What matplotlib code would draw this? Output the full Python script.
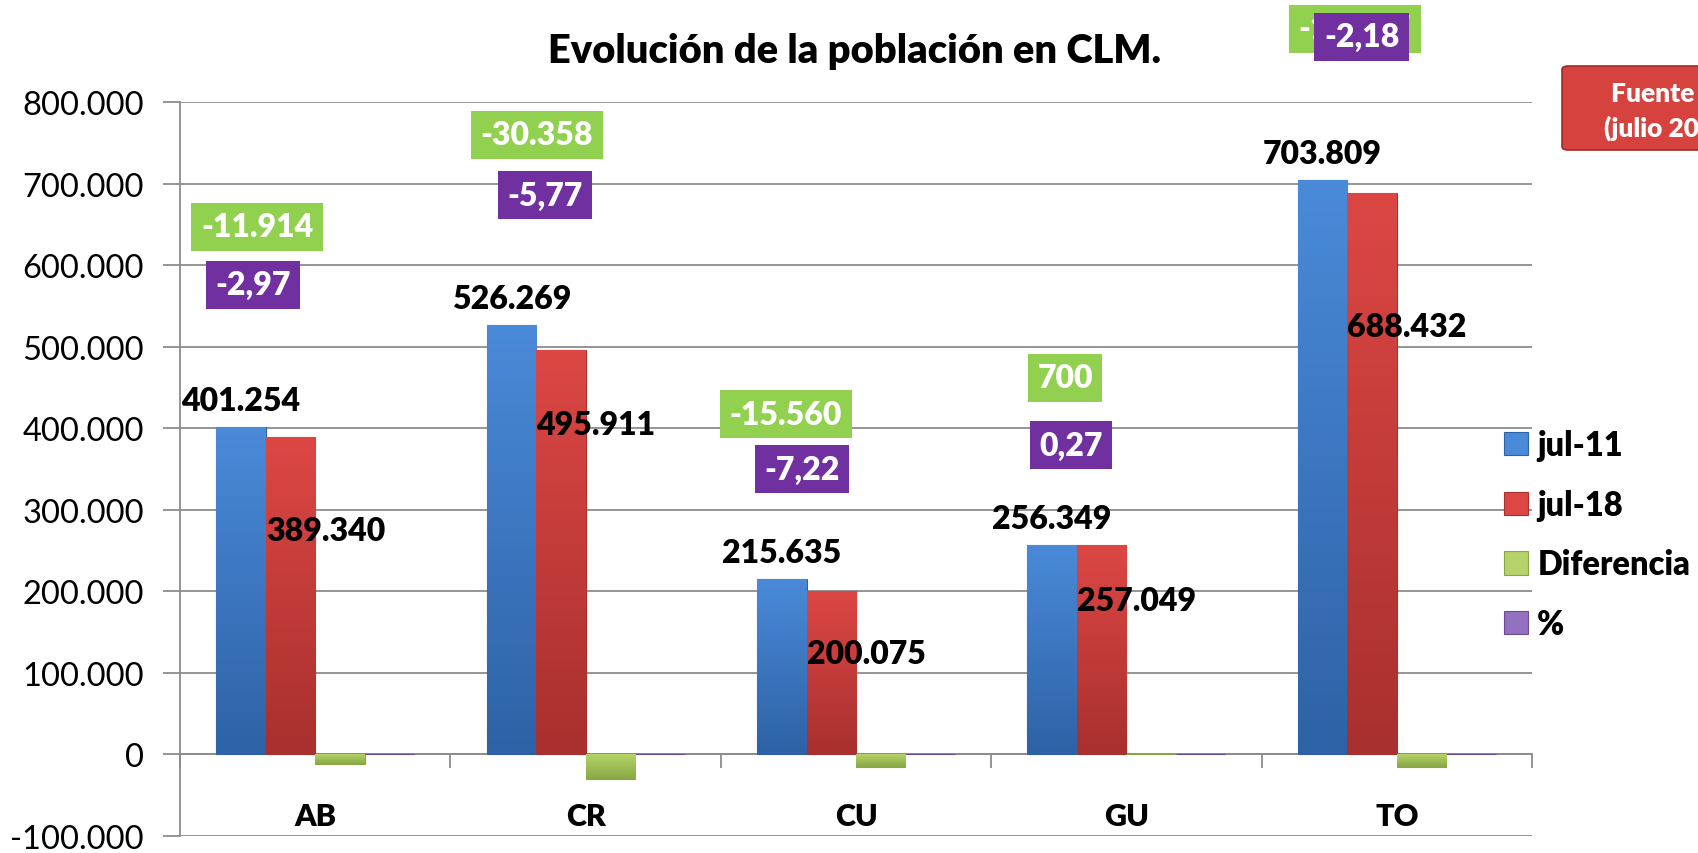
import matplotlib.pyplot as plt
import numpy as np
from matplotlib.patches import FancyBboxPatch
from matplotlib.colors import LinearSegmentedColormap

plt.rcParams['font.family'] = ['Lato', 'DejaVu Sans']

# data
provincias = ['AB', 'CR', 'CU', 'GU', 'TO']
jul_11 = [401254, 526269, 215635, 256349, 703809]
jul_18 = [389340, 495911, 200075, 257049, 688432]
diferencia = [-11914, -30358, -15560, 700, -15377]
porcentaje = [-2.97, -5.77, -7.22, 0.27, -2.18]

# label placement (moved by hand in the original), offsets from group centre
red_label_drop = [94, 74, 62, 56, 134]          # px below bar top
diff_label_pos = [(-0.215, 647000), (-0.18, 760000), (-0.259, 417000),
                  (-0.227, 462000), (-0.155, 890000)]
pct_label_pos = [(-0.23, 576000), (-0.15, 686000), (-0.20, 350000),
                 (-0.205, 379000), (-0.13, 880000)]

# (top colour, bottom colour) of each series
shades = {'jul-11': ('#4a8ad8', '#2e62a6'),
          'jul-18': ('#dc4744', '#a8302e'),
          'Diferencia': ('#b5d36a', '#88a845'),
          '%': ('#9470c0', '#6a4c94')}
box_green = '#92d050'
box_purple = '#7030a0'


def fmt_miles(v):
    s = '{:,}'.format(abs(int(v))).replace(',', '.')
    return ('-' if v < 0 else '') + s


def fmt_pct(v):
    return '{:.2f}'.format(v).replace('.', ',')


def shade_bars(ax, bar_container, top, bottom):
    cmap = LinearSegmentedColormap.from_list('s', [bottom, top])
    grad = np.linspace(0, 1, 64).reshape(-1, 1)
    for r in bar_container:
        x0, y0 = r.get_x(), r.get_y()
        w, h = r.get_width(), r.get_height()
        lo, hi = min(y0, y0 + h), max(y0, y0 + h)
        im = ax.imshow(grad, cmap=cmap, aspect='auto', origin='lower',
                       extent=(x0, x0 + w, lo, hi), zorder=3.1,
                       interpolation='bicubic')
        im.set_clip_path(r)


fig = plt.figure(figsize=(16.98, 8.54), dpi=100)
ax = fig.add_axes([180 / 1698, 17 / 854, 1352 / 1698, 734 / 854])

x = np.arange(len(provincias))
w = 0.183
series = [(jul_11, 'jul-11'), (jul_18, 'jul-18'),
          (diferencia, 'Diferencia'), (porcentaje, '%')]
for k, (vals, lab) in enumerate(series):
    top, bottom = shades[lab]
    b = ax.bar(x + (k - 1.5) * w, vals, w, color=top, edgecolor=bottom,
               linewidth=0.8, label=lab, zorder=3)
    shade_bars(ax, b, top, bottom)

ax.set_xlim(-0.5, 4.5)
ax.set_ylim(-100000, 800000)
yt = np.arange(-100000, 800001, 100000)
ax.set_yticks(yt)
ax.set_yticklabels([fmt_miles(v) for v in yt], fontsize=23.5)
ax.yaxis.grid(True, color='#8c8c8c', linewidth=1.3, zorder=0)
ax.tick_params(axis='y', length=12, width=1.3, color='#8c8c8c', pad=14)

ax.spines['bottom'].set_position(('data', 0))
ax.spines['bottom'].set_color('#8c8c8c')
ax.spines['bottom'].set_linewidth(1.3)
ax.spines['left'].set_color('#8c8c8c')
ax.spines['left'].set_linewidth(1.3)
ax.spines['top'].set_visible(False)
ax.spines['right'].set_visible(False)

ax.set_xticks(x)
ax.set_xticklabels(provincias, fontsize=22, fontweight='heavy')
ax.tick_params(axis='x', length=0, pad=34)
ax.set_xticks(np.arange(-0.5, 5, 1), minor=True)
ax.tick_params(axis='x', which='minor', length=10, width=1.3, color='#8c8c8c')

# value labels on the bars
for i in range(len(provincias)):
    ax.annotate(fmt_miles(jul_11[i]), (x[i] - 1.5 * w, jul_11[i]),
                xytext=(0, 12), textcoords='offset pixels', ha='center',
                va='bottom', fontsize=23, fontweight='heavy', zorder=5)
    ax.annotate(fmt_miles(jul_18[i]), (x[i] - w, jul_18[i]),
                xytext=(0, -red_label_drop[i]), textcoords='offset pixels',
                ha='left', va='center', fontsize=23, fontweight='heavy', zorder=5)
    dx, dy = diff_label_pos[i]
    ax.text(x[i] + dx, dy, fmt_miles(diferencia[i]), ha='center', va='center',
            fontsize=23, fontweight='heavy', color='white', zorder=6,
            bbox=dict(boxstyle='square,pad=0.3', fc=box_green, ec='none'),
            clip_on=False)
    px, py = pct_label_pos[i]
    ax.text(x[i] + px, py, fmt_pct(porcentaje[i]), ha='center', va='center',
            fontsize=23, fontweight='heavy', color='white', zorder=7,
            bbox=dict(boxstyle='square,pad=0.3', fc=box_purple, ec='none'),
            clip_on=False)

fig.text(855 / 1698, 1 - 51 / 854, 'Evolución de la población en CLM.',
         ha='center', va='center', fontsize=28.7, fontweight='heavy')

leg = ax.legend(loc='upper left', bbox_to_anchor=(1504 / 1698, 1 - 430 / 854),
                bbox_transform=fig.transFigure, frameon=False, fontsize=23.5,
                handlelength=0.72, handleheight=0.72, handletextpad=0.3,
                labelspacing=0.85, borderaxespad=0, borderpad=0)
for t in leg.get_texts():
    t.set_fontweight('heavy')

# source box at the top right (cut off by the figure edge)
box = FancyBboxPatch((1562 / 1698, 1 - 151 / 854), 0.2, 84 / 854,
                     boxstyle='round,pad=0,rounding_size=0.004',
                     transform=fig.transFigure, fc='#d6433f', ec='#a02a28',
                     lw=1.2, zorder=1)
fig.patches.append(box)
fig.text(1611 / 1698, 1 - 94 / 854, 'Fuente INE', ha='left', va='center',
         fontsize=19, fontweight='heavy', color='white')
fig.text(1604 / 1698, 1 - 128 / 854, '(julio 2018)', ha='left', va='center',
         fontsize=19, fontweight='heavy', color='white')

fig.savefig('out.png', dpi=100)
